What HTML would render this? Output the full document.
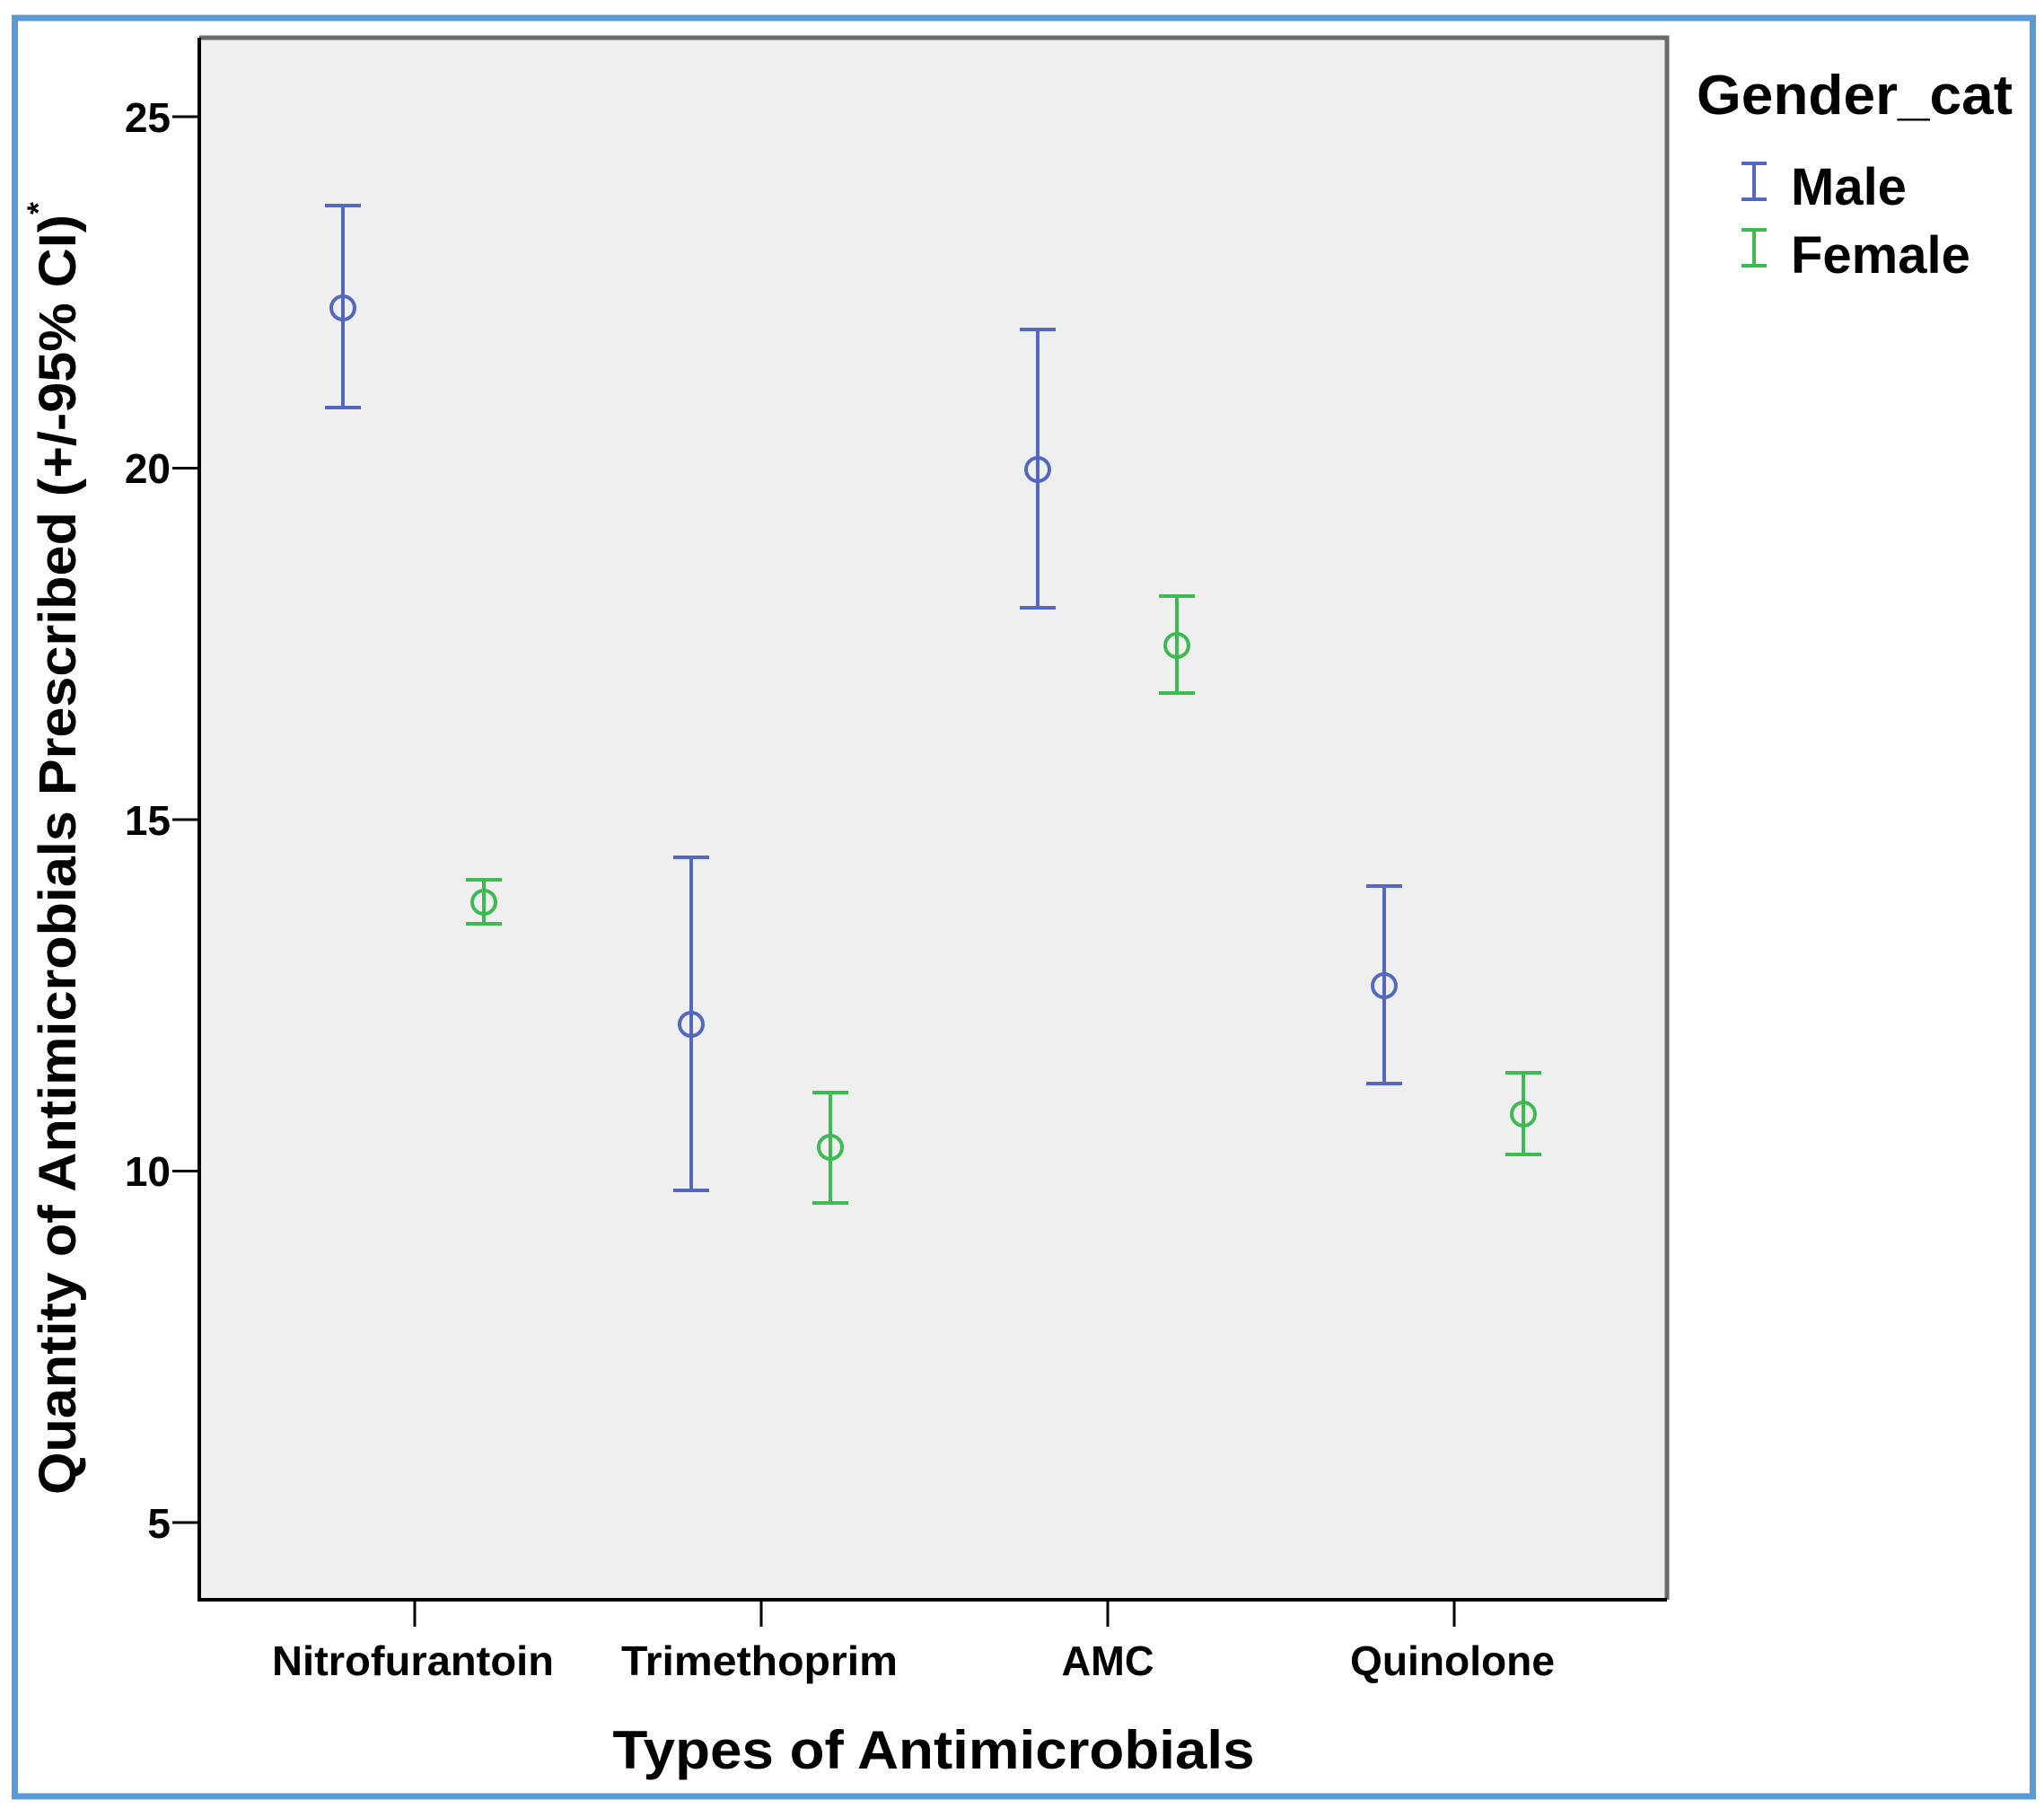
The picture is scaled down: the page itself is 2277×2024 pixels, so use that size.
<!DOCTYPE html>
<html><head><style>body{margin:0;background:#fff}svg{display:block}</style></head><body>
<svg width="2277" height="2024" viewBox="0 0 2277 2024" xmlns="http://www.w3.org/2000/svg" font-family="Liberation Sans, sans-serif" font-weight="bold">
<rect x="16.5" y="20" width="2248" height="1981" fill="#fff" stroke="#5b9bd5" stroke-width="7"/>
<rect x="222" y="42" width="1635" height="1740" fill="#efefef"/>
<path d="M222 42H1857V1782" fill="none" stroke="#6a6a6a" stroke-width="5"/>
<path d="M222 42V1782H1857" fill="none" stroke="#000" stroke-width="4"/>
<g stroke="#000" stroke-width="3">
<line x1="192" y1="130" x2="222" y2="130"/><line x1="192" y1="521.5" x2="222" y2="521.5"/><line x1="192" y1="913" x2="222" y2="913"/><line x1="192" y1="1304.5" x2="222" y2="1304.5"/><line x1="192" y1="1696" x2="222" y2="1696"/>
<line x1="462" y1="1782" x2="462" y2="1812"/><line x1="848" y1="1782" x2="848" y2="1812"/><line x1="1234" y1="1782" x2="1234" y2="1812"/><line x1="1620" y1="1782" x2="1620" y2="1812"/>
</g>
<g font-size="46" text-anchor="end">
<text x="190" y="147">25</text><text x="190" y="538">20</text><text x="190" y="930">15</text><text x="190" y="1321">10</text><text x="190" y="1713">5</text>
</g>
<g font-size="46" text-anchor="middle">
<text x="460" y="1866" textLength="314" lengthAdjust="spacingAndGlyphs">Nitrofurantoin</text>
<text x="846" y="1866" textLength="308" lengthAdjust="spacingAndGlyphs">Trimethoprim</text>
<text x="1234" y="1866" textLength="103" lengthAdjust="spacingAndGlyphs">AMC</text>
<text x="1618" y="1866" textLength="228" lengthAdjust="spacingAndGlyphs">Quinolone</text>
</g>
<text x="1040" y="1970" font-size="60" text-anchor="middle" textLength="715" lengthAdjust="spacingAndGlyphs">Types of Antimicrobials</text>
<text transform="translate(84,945) rotate(-90)" font-size="58" text-anchor="middle" textLength="1440" lengthAdjust="spacingAndGlyphs">Quantity of Antimicrobials Prescribed (+/-95% CI)<tspan font-size="34" dy="-30">*</tspan></text>
<text x="1890" y="127" font-size="62" textLength="352" lengthAdjust="spacingAndGlyphs">Gender_cat</text>
<text x="1995" y="228" font-size="58">Male</text>
<text x="1995" y="304" font-size="58">Female</text>
<g fill="none" stroke-width="4">
<g stroke="#5468bd"><path d="M1940 182h28M1940 222h28M1954 182v40"/>
<path d="M362 229h40M362 454h40M382 229v225"/><circle cx="382" cy="343" r="13"/>
<path d="M750 955h40M750 1326h40M770 955v371"/><circle cx="770" cy="1141" r="13"/>
<path d="M1136 367h40M1136 677h40M1156 367v310"/><circle cx="1156" cy="523" r="13"/>
<path d="M1522 987h40M1522 1207h40M1542 987v220"/><circle cx="1542" cy="1098" r="13"/>
</g>
<g stroke="#3dba52"><path d="M1940 256h28M1940 296h28M1954 256v40"/>
<path d="M519 980h40M519 1029h40M539 980v49"/><circle cx="539" cy="1005" r="13"/>
<path d="M905 1217h40M905 1340h40M925 1217v123"/><circle cx="925" cy="1278" r="13"/>
<path d="M1291 664h40M1291 772h40M1311 664v108"/><circle cx="1311" cy="719" r="13"/>
<path d="M1677 1195h40M1677 1286h40M1697 1195v91"/><circle cx="1697" cy="1241" r="13"/>
</g>
</g>
</svg>
</body></html>
